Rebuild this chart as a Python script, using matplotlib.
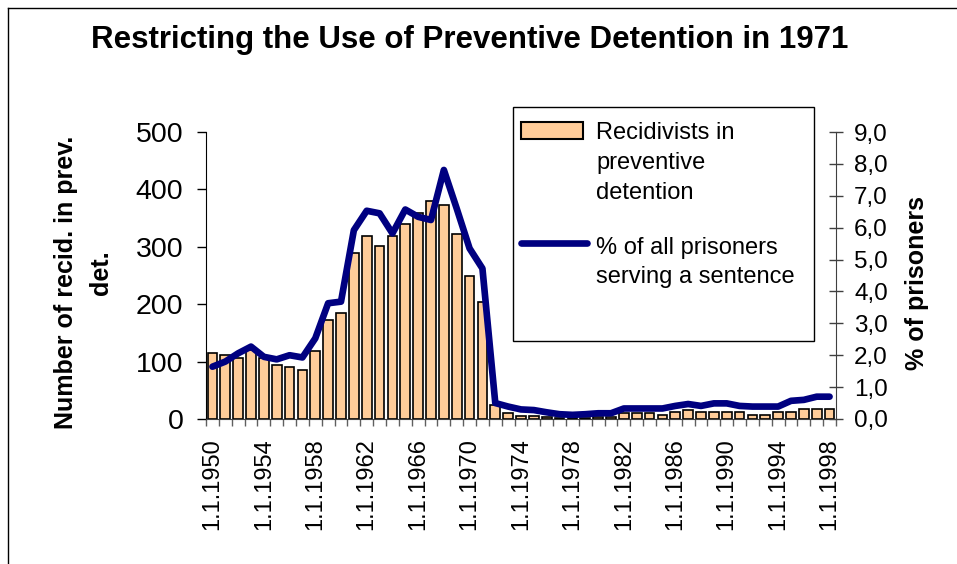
import matplotlib
matplotlib.use('Agg')
import matplotlib.pyplot as plt
from matplotlib.patches import Rectangle
from matplotlib.lines import Line2D
import numpy as np

plt.rcParams['font.family'] = ['Liberation Sans', 'DejaVu Sans']

# data
years = list(range(1950, 1999))
recidivists = [115, 111, 106, 120, 106, 94, 90, 86, 119, 172,
               185, 290, 319, 302, 319, 339, 359, 380, 372, 323,
               250, 204, 24, 11, 6, 5, 3, 2, 2, 2,
               3, 3, 10, 10, 10, 7, 13, 16, 13, 13,
               13, 13, 7, 7, 12, 12, 17, 17, 17]
percent = [1.64, 1.80, 2.06, 2.27, 1.95, 1.87, 2.00, 1.93, 2.53, 3.63,
           3.68, 5.92, 6.53, 6.45, 5.82, 6.57, 6.34, 6.24, 7.81, 6.60,
           5.35, 4.72, 0.50, 0.39, 0.30, 0.28, 0.21, 0.15, 0.13, 0.15,
           0.18, 0.18, 0.33, 0.33, 0.33, 0.33, 0.41, 0.47, 0.41, 0.49,
           0.49, 0.41, 0.39, 0.39, 0.39, 0.57, 0.60, 0.70, 0.70]
left_ticks = [0, 100, 200, 300, 400, 500]
right_ticks = [0, 1, 2, 3, 4, 5, 6, 7, 8, 9]
label_every = 4

title = 'Restricting the Use of Preventive Detention in 1971'
left_label = ['Number of recid. in prev.', 'det.']
right_label = '% of prisoners'
bar_legend = ['Recidivists in', 'preventive', 'detention']
line_legend = ['% of all prisoners', 'serving a sentence']

bar_color = '#FFCC99'
line_color = '#000080'

W, H = 957, 564
fig = plt.figure(figsize=(W / 100, H / 100), dpi=100)


def fx(x):
    return x / W


def fy(y):
    return 1 - y / H


ax = fig.add_axes([fx(206), fy(419), 630 / W, 287 / H])
x = np.arange(len(years))
ax.bar(x, recidivists, width=0.75, color=bar_color, edgecolor='black', linewidth=1.2, zorder=2)
ax.set_xlim(-0.5, len(years) - 0.5)
ax.set_ylim(0, 500)
ax.set_yticks(left_ticks)
ax.tick_params(axis='y', direction='out', length=6.3, width=1, pad=10, labelsize=20.5)
ax.set_xticks(x[::label_every])
ax.set_xticklabels(['1.1.%d' % y for y in years[::label_every]], rotation=90)
ax.set_xticks(np.arange(len(years) + 1) - 0.5, minor=True)
ax.tick_params(axis='x', which='major', length=0, pad=13.5, labelsize=17)
ax.tick_params(axis='x', which='minor', direction='out', length=5, width=1, color='#606060')
for s in ['top', 'right']:
    ax.spines[s].set_visible(False)
ax.spines['bottom'].set_color('#404040')

ax2 = ax.twinx()
ax2.plot(x, percent, color=line_color, lw=4.8, solid_capstyle='round', solid_joinstyle='round')
ax2.set_ylim(0, 9)
ax2.set_yticks(right_ticks)
ax2.set_yticklabels([('%.1f' % v).replace('.', ',') for v in right_ticks])
ax2.tick_params(axis='y', direction='inout', length=10, width=1, pad=8, labelsize=17.5, color='#404040')
for s in ['top', 'left', 'bottom']:
    ax2.spines[s].set_visible(False)
ax2.spines['right'].set_color('#404040')

# title and axis titles
fig.text(fx(470), fy(48), title, ha='center', va='baseline', fontsize=22.5, fontweight='bold')
fig.text(fx(66.5), fy(282), left_label[0], rotation=90, ha='center', va='center',
         fontsize=18, fontweight='bold')
fig.text(fx(101), fy(273), left_label[1], rotation=90, ha='center', va='center',
         fontsize=18, fontweight='bold')
fig.text(fx(917), fy(283), right_label, rotation=90, ha='center', va='center',
         fontsize=18, fontweight='bold')

# legend box
fig.add_artist(Rectangle((fx(513), fy(341)), 301 / W, 234 / H, transform=fig.transFigure,
                         facecolor='white', edgecolor='black', lw=1))
fig.add_artist(Rectangle((fx(521), fy(139)), 62 / W, 17 / H, transform=fig.transFigure,
                         facecolor=bar_color, edgecolor='black', lw=1.5))
fig.add_artist(Line2D([fx(521), fx(587)], [fy(243), fy(243)], transform=fig.transFigure,
                      color=line_color, lw=4.8, solid_capstyle='round'))
for i, t in enumerate(bar_legend):
    fig.text(fx(596), fy(139 + 30 * i), t, ha='left', va='baseline', fontsize=17)
for i, t in enumerate(line_legend):
    fig.text(fx(596), fy(254 + 29 * i), t, ha='left', va='baseline', fontsize=17)

# outer frame (top and left edges visible)
fig.add_artist(Line2D([fx(8), 1], [fy(8), fy(8)], transform=fig.transFigure, color='black', lw=1))
fig.add_artist(Line2D([fx(8), fx(8)], [fy(8), 0], transform=fig.transFigure, color='black', lw=1))

fig.savefig('out.png', dpi=100)
